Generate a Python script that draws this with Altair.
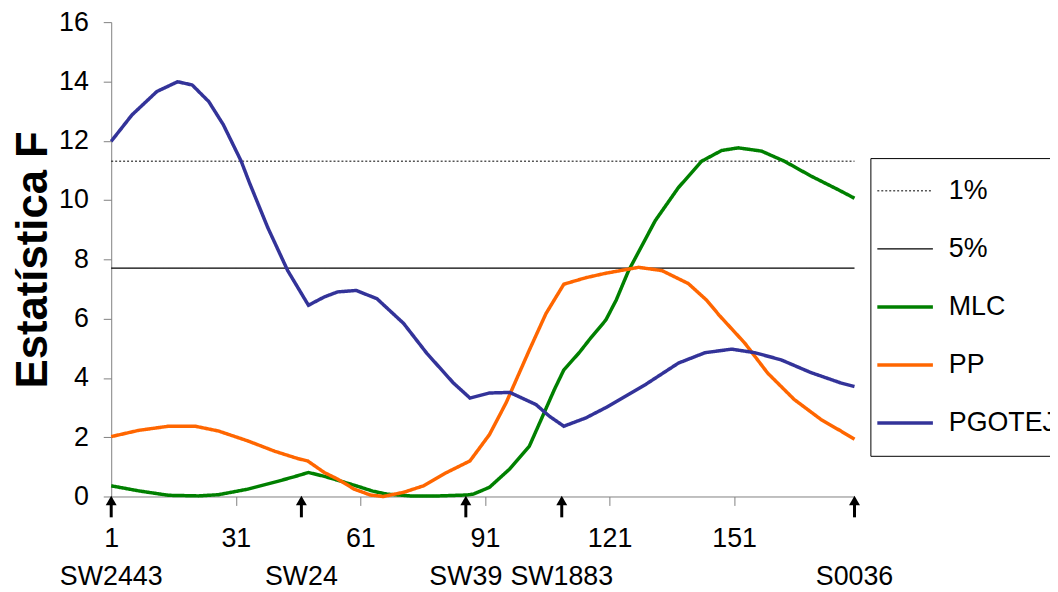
import altair as alt
import pandas as pd

# ---- data ----
series_order = ["1%", "5%", "MLC", "PP", "PGOTEJ"]
series_colors = ["#000000", "#000000", "#008000", "#FF6600", "#333399"]
series_dash = [[2, 2], [1, 0], [1, 0], [1, 0], [1, 0]]
series_width = [1, 1.2, 3.5, 3.5, 3.5]

x_start = 1
x_end = 180
thr_1pct = 11.31
thr_5pct = 7.70

pgotej_pos = [1, 6, 12, 17, 20.5, 24.5, 28, 32.3, 34.3, 38.7, 43.5, 48.5, 52.3, 55.5, 60, 65,
              71.4, 77, 83.4, 87.4, 92, 97, 103.3, 106.5, 110, 115.3, 120, 129.6, 137.6, 144,
              150.4, 156, 162.3, 169.5, 176.7, 180]
pgotej_f = [11.98, 12.87, 13.66, 13.99, 13.88, 13.32, 12.54, 11.31, 10.58, 9.07, 7.62, 6.45,
            6.73, 6.90, 6.95, 6.67, 5.84, 4.83, 3.83, 3.32, 3.49, 3.51, 3.10, 2.71, 2.37, 2.65,
            2.99, 3.77, 4.50, 4.85, 4.97, 4.85, 4.61, 4.18, 3.83, 3.71]

mlc_pos = [1, 7.6, 14.8, 22, 26.8, 34, 41.1, 45.9, 48.5, 52.3, 55.5, 60, 64, 67.4, 73, 80,
           86.6, 88.2, 92.1, 96.9, 101.7, 104.9, 107.7, 110, 113.7, 116.1, 120.1, 122.6, 125.6,
           132, 137.6, 143.2, 148, 152, 157.6, 163.1, 169.5, 175.9, 180]
mlc_f = [0.36, 0.19, 0.04, 0.02, 0.06, 0.25, 0.51, 0.70, 0.81, 0.68, 0.55, 0.36, 0.18, 0.08,
         0.02, 0.02, 0.05, 0.08, 0.31, 0.92, 1.70, 2.71, 3.60, 4.27, 4.85, 5.28, 5.95, 6.62,
         7.62, 9.30, 10.42, 11.31, 11.67, 11.76, 11.65, 11.31, 10.81, 10.36, 10.06]

pp_pos = [1, 7.6, 14.8, 21.2, 26.8, 34, 40.3, 45.9, 48.3, 52.3, 55.5, 59.5, 63.4, 66.5, 71.4,
          76.2, 81.8, 87.4, 92.1, 96.1, 98.9, 101.7, 105.7, 110, 115.3, 120.1, 128, 133.6, 140,
          144.4, 147.5, 153.6, 159.1, 165.5, 171.9, 176.7, 180]
pp_f = [2.02, 2.23, 2.37, 2.37, 2.21, 1.87, 1.53, 1.28, 1.20, 0.81, 0.59, 0.25, 0.05, 0.0,
        0.14, 0.36, 0.81, 1.20, 2.09, 3.16, 4.05, 4.94, 6.17, 7.16, 7.38, 7.53, 7.73, 7.62,
        7.18, 6.62, 6.10, 5.17, 4.16, 3.27, 2.60, 2.21, 1.93]

markers = ["SW2443", "SW24", "SW39", "SW1883", "S0036"]
marker_pos = [1, 46.8, 86.4, 109.5, 180]

x_ticks = [1, 31, 61, 91, 121, 151]
y_ticks = [0, 2, 4, 6, 8, 10, 12, 14, 16]

# ---- build long table ----
rows = []
for s, v in [("1%", thr_1pct), ("5%", thr_5pct)]:
    rows.append({"series": s, "pos": x_start, "F": v})
    rows.append({"series": s, "pos": x_end, "F": v})
for s, xs, ys in [("MLC", mlc_pos, mlc_f), ("PP", pp_pos, pp_f), ("PGOTEJ", pgotej_pos, pgotej_f)]:
    for a, b in zip(xs, ys):
        rows.append({"series": s, "pos": a, "F": b})
df = pd.DataFrame(rows)
mk = pd.DataFrame({"marker": markers, "pos": marker_pos})

FONT = "Liberation Sans"
xscale = alt.Scale(domain=[x_start, x_end], nice=False, zero=False)
yscale = alt.Scale(domain=[0, 16], nice=False, zero=True)

leg = alt.Legend(
    orient="none", legendX=765, legendY=137, title=None,
    symbolType="stroke", symbolSize=3136, labelFontSize=27, labelFont=FONT,
    labelColor="black", labelOffset=14, rowPadding=2.5, clipHeight=56, padding=5,
    strokeColor="black", fillColor="white",
)

lines = alt.Chart(df).mark_line(clip=False).encode(
    x=alt.X("pos:Q", scale=xscale,
            axis=alt.Axis(values=x_ticks, title=None, labelFontSize=27, labelFont=FONT,
                          labelColor="black", tickSize=9, labelPadding=20, labelFlush=False,
                          domainColor="#808080", tickColor="#808080", grid=False,
                          labelOverlap=False)),
    y=alt.Y("F:Q", scale=yscale,
            axis=alt.Axis(values=y_ticks, title="Estatística F", titleFontSize=44,
                          titleFont=FONT, titleFontWeight="bold", titleColor="black",
                          titleAngle=270, titleX=-65, titleY=239, titleBaseline="alphabetic",
                          titleAlign="center", labelFontSize=27, labelFont=FONT,
                          labelColor="black", tickSize=8, labelPadding=15, labelFlush=False,
                          domainColor="#808080", tickColor="#808080", grid=False)),
    color=alt.Color("series:N",
                    scale=alt.Scale(type="ordinal", domain=series_order, range=series_colors),
                    legend=leg),
    strokeDash=alt.StrokeDash("series:N",
                              scale=alt.Scale(type="ordinal", domain=series_order, range=series_dash),
                              legend=leg),
    strokeWidth=alt.StrokeWidth("series:N",
                                scale=alt.Scale(type="ordinal", domain=series_order, range=series_width),
                                legend=leg),
)

heads = alt.Chart(mk).mark_point(shape="triangle-up", filled=True, color="black", size=121,
                                 opacity=1).encode(
    x=alt.X("pos:Q", scale=xscale), y=alt.value(482))
shafts = alt.Chart(mk).mark_rule(color="black", strokeWidth=3).encode(
    x=alt.X("pos:Q", scale=xscale), y=alt.value(485), y2=alt.value(499))
names = alt.Chart(mk).mark_text(fontSize=27, font=FONT, baseline="alphabetic", align="center",
                                color="black").encode(
    x=alt.X("pos:Q", scale=xscale), y=alt.value(567), text="marker:N")

chart = alt.layer(lines, shafts, heads, names).properties(
    width=749, height=478,
    autosize=alt.AutoSizeParams(type="none"),
    padding={"left": 104, "top": 12, "right": 197, "bottom": 94},
    background="white",
).configure_view(stroke=None)

chart.save("out.html", embed_options={"renderer": "svg", "actions": False})
